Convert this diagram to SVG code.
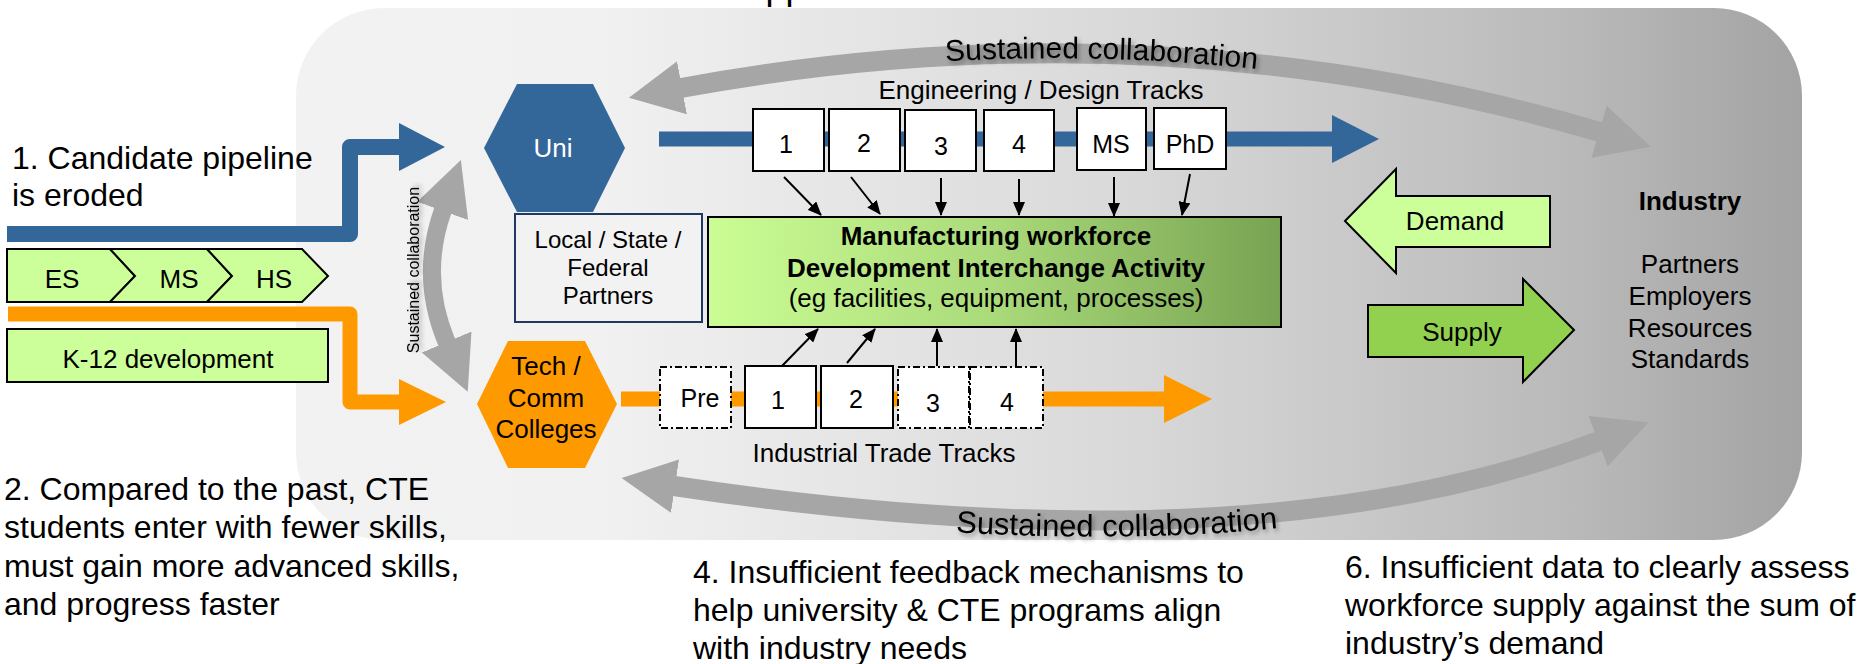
<svg xmlns="http://www.w3.org/2000/svg" width="1866" height="664" viewBox="0 0 1866 664">
<style>
.t{font-family:"Liberation Sans",Arial,sans-serif;fill:#000}
.c{text-anchor:middle}
.b{font-weight:bold}
.box{fill:#fff;stroke:#000;stroke-width:2}
.dd{fill:#fff;stroke:#000;stroke-width:2;stroke-dasharray:7 3 2 3}
.grn{fill:#ccff99;stroke:#000;stroke-width:2}
.gray{fill:none;stroke:#a6a6a6;marker-start:url(#grayHead);marker-end:url(#grayHead)}
.conn{stroke:#000;stroke-width:2;fill:none;marker-end:url(#blackHead)}
</style>
<defs>
<linearGradient id="bgGrad" x1="0" y1="0" x2="1" y2="0">
<stop offset="0" stop-color="#f2f2f2"/>
<stop offset="0.2" stop-color="#f1f1f1"/>
<stop offset="0.55" stop-color="#d9d9d9"/>
<stop offset="0.85" stop-color="#b9b9b9"/>
<stop offset="1" stop-color="#a3a3a3"/>
</linearGradient>
<linearGradient id="mfgGrad" x1="0" y1="0" x2="1" y2="0">
<stop offset="0" stop-color="#cbfd94"/>
<stop offset="0.5" stop-color="#aada7a"/>
<stop offset="1" stop-color="#78a352"/>
</linearGradient>
<marker id="grayHead" markerUnits="userSpaceOnUse" viewBox="0 -28 56 56" markerWidth="56" markerHeight="56" refX="1" refY="0" orient="auto-start-reverse">
<path d="M0,-27 L54,0 L0,27 Z" fill="#a6a6a6"/>
</marker>
<marker id="blackHead" markerUnits="userSpaceOnUse" viewBox="0 0 14 12" markerWidth="14" markerHeight="12" refX="13" refY="6" orient="auto">
<path d="M0,0 L14,6 L0,12 Z" fill="#000"/>
</marker>
<filter id="txtShadow" x="-10%" y="-40%" width="120%" height="180%">
<feDropShadow dx="2" dy="3" stdDeviation="2" flood-color="#000" flood-opacity="0.35"/>
</filter>
<path id="topTextPath" d="M681,93 Q1152,6 1600,137"/>
<path id="botTextPath" d="M674,502 Q1252,589 1599,457"/>
</defs>

<text class="t" x="765.5" y="-1" font-size="36">pp</text>

<rect id="background" x="296" y="8" width="1506" height="532" rx="88" ry="88" fill="url(#bgGrad)"/>

<g id="pipelines">
<path d="M7,234 H350 V147 H400" fill="none" stroke="#336699" stroke-width="16" stroke-linejoin="round"/>
<polygon points="399,123 445,147 399,171" fill="#336699"/>
<path d="M8,314 H350 V402 H400" fill="none" stroke="#ff9900" stroke-width="15" stroke-linejoin="round"/>
<polygon points="399,379 446,402 399,425" fill="#ff9900"/>
<line x1="659" y1="139" x2="1333" y2="139" stroke="#336699" stroke-width="15"/>
<polygon points="1332,115 1379,139 1332,163" fill="#336699"/>
<line x1="621" y1="399" x2="1165" y2="399" stroke="#ff9900" stroke-width="15"/>
<polygon points="1164,375 1212,399 1164,423" fill="#ff9900"/>
</g>

<g id="collaboration">
<path class="gray" d="M681,88 Q1152,1 1600,132" stroke-width="20"/>
<path class="gray" d="M674,486 Q1252,573 1599,441" stroke-width="20"/>
<path class="gray" d="M443,210 Q419,277 447,343" stroke-width="18"/>
<text class="t c" font-size="30" filter="url(#txtShadow)"><textPath href="#topTextPath" startOffset="45.5%">Sustained collaboration</textPath></text>
<text class="t c" font-size="31" filter="url(#txtShadow)"><textPath href="#botTextPath" startOffset="47.5%">Sustained collaboration</textPath></text>
<text class="t c" font-size="16" filter="url(#txtShadow)" transform="translate(419,270) rotate(-90)">Sustained collaboration</text>
</g>

<g id="labels">
<text class="t" font-size="32" x="12" y="169">1. Candidate pipeline</text>
<text class="t" font-size="32" x="12" y="206">is eroded</text>
<text class="t" font-size="32" x="4" y="500">2. Compared to the past, CTE</text>
<text class="t" font-size="32" x="4" y="538">students enter with fewer skills,</text>
<text class="t" font-size="32" x="4" y="577">must gain more advanced skills,</text>
<text class="t" font-size="32" x="4" y="615">and progress faster</text>
<text class="t" font-size="32" x="693" y="583">4. Insufficient feedback mechanisms to</text>
<text class="t" font-size="32" x="693" y="621">help university &amp; CTE programs align</text>
<text class="t" font-size="32" x="693" y="659">with industry needs</text>
<text class="t" font-size="32" x="1345" y="578">6. Insufficient data to clearly assess</text>
<text class="t" font-size="32" x="1345" y="616">workforce supply against the sum of</text>
<text class="t" font-size="32" x="1345" y="654">industry’s demand</text>
<text class="t c" font-size="26" x="1041" y="99">Engineering / Design Tracks</text>
<text class="t c" font-size="26" x="884" y="462">Industrial Trade Tracks</text>
</g>

<g id="es">
<polygon class="grn" points="7,249 110,249 135,276 110,302 7,302"/>
<text class="t c" font-size="26" x="62" y="288">ES</text>
</g>
<g id="ms-school">
<polygon class="grn" points="110,249 207,249 232,276 207,302 110,302 135,276"/>
<text class="t c" font-size="26" x="179" y="288">MS</text>
</g>
<g id="hs">
<polygon class="grn" points="207,249 302,249 328,276 302,302 207,302 232,276"/>
<text class="t c" font-size="26" x="274" y="288">HS</text>
</g>
<g id="k12">
<rect class="grn" x="7" y="329" width="321" height="53"/>
<text class="t c" font-size="26" x="168" y="368">K-12 development</text>
</g>

<g id="uni">
<polygon points="484,148 517,84 593,84 625,148 593,212 517,212" fill="#336699"/>
<text class="c" font-family="Liberation Sans, Arial, sans-serif" font-size="26" fill="#fff" x="553" y="157">Uni</text>
</g>
<g id="tech">
<polygon points="477,404 508,341 585,341 617,404 585,468 508,468" fill="#ff9900"/>
<text class="t c" font-size="26" x="546" y="375">Tech /</text>
<text class="t c" font-size="26" x="546" y="407">Comm</text>
<text class="t c" font-size="26" x="546" y="438">Colleges</text>
</g>
<g id="partners">
<rect x="515" y="214" width="187" height="108" fill="#f2f2f2" stroke="#1f3864" stroke-width="2"/>
<text class="t c" font-size="24" x="608" y="248">Local / State /</text>
<text class="t c" font-size="24" x="608" y="276">Federal</text>
<text class="t c" font-size="24" x="608" y="304">Partners</text>
</g>

<g id="eng1"><rect class="box" x="753" y="109" width="71" height="62"/><text class="t c" font-size="25" x="786" y="153">1</text></g>
<g id="eng2"><rect class="box" x="829" y="109" width="71" height="62"/><text class="t c" font-size="25" x="864" y="152">2</text></g>
<g id="eng3"><rect class="box" x="905" y="110" width="71" height="61"/><text class="t c" font-size="25" x="941" y="155">3</text></g>
<g id="eng4"><rect class="box" x="984" y="110" width="70" height="61"/><text class="t c" font-size="25" x="1019" y="153">4</text></g>
<g id="engMS"><rect class="box" x="1077" y="108" width="69" height="62"/><text class="t c" font-size="25" x="1111" y="153">MS</text></g>
<g id="engPhD"><rect class="box" x="1154" y="108" width="72" height="61"/><text class="t c" font-size="25" x="1190" y="153">PhD</text></g>

<g id="indPre"><rect class="dd" x="660" y="367" width="71" height="61"/><text class="t c" font-size="25" x="700" y="407">Pre</text></g>
<g id="ind1"><rect class="box" x="745" y="366" width="71" height="62"/><text class="t c" font-size="25" x="778" y="409">1</text></g>
<g id="ind2"><rect class="box" x="821" y="366" width="72" height="62"/><text class="t c" font-size="25" x="856" y="408">2</text></g>
<g id="ind3"><rect class="dd" x="898" y="367" width="71" height="61"/><text class="t c" font-size="25" x="933" y="412">3</text></g>
<g id="ind4"><rect class="dd" x="970" y="367" width="73" height="61"/><text class="t c" font-size="25" x="1007" y="411">4</text></g>

<g id="mfg">
<rect x="708" y="217" width="573" height="110" fill="url(#mfgGrad)" stroke="#000" stroke-width="2"/>
<text class="t c b" font-size="26" x="996" y="245">Manufacturing workforce</text>
<text class="t c b" font-size="26" x="996" y="277">Development Interchange Activity</text>
<text class="t c" font-size="26" x="996" y="307">(eg facilities, equipment, processes)</text>
</g>

<g id="demand">
<polygon points="1345,221 1396,169 1396,196 1550,196 1550,247 1396,247 1396,273" fill="#ccff99" stroke="#000" stroke-width="2"/>
<text class="t c" font-size="26" x="1455" y="230">Demand</text>
</g>
<g id="supply">
<polygon points="1368,305 1523,305 1523,279 1574,330 1523,382 1523,357 1368,357" fill="#92d050" stroke="#000" stroke-width="2"/>
<text class="t c" font-size="26" x="1462" y="341">Supply</text>
</g>
<g id="industry">
<text class="t c b" font-size="26" x="1690" y="210">Industry</text>
<text class="t c" font-size="26" x="1690" y="273">Partners</text>
<text class="t c" font-size="26" x="1690" y="305">Employers</text>
<text class="t c" font-size="26" x="1690" y="337">Resources</text>
<text class="t c" font-size="26" x="1690" y="368">Standards</text>
</g>

<g id="connectors">
<line class="conn" x1="784" y1="177" x2="821" y2="215"/>
<line class="conn" x1="851" y1="177" x2="880" y2="214"/>
<line class="conn" x1="941" y1="178" x2="941" y2="215"/>
<line class="conn" x1="1019" y1="179" x2="1019" y2="215"/>
<line class="conn" x1="1114" y1="177" x2="1114" y2="216"/>
<line class="conn" x1="1190" y1="174" x2="1182" y2="215"/>
<line class="conn" x1="782" y1="366" x2="818" y2="329"/>
<line class="conn" x1="847" y1="363" x2="875" y2="329"/>
<line class="conn" x1="937" y1="366" x2="937" y2="329"/>
<line class="conn" x1="1016" y1="367" x2="1016" y2="329"/>
</g>
</svg>
